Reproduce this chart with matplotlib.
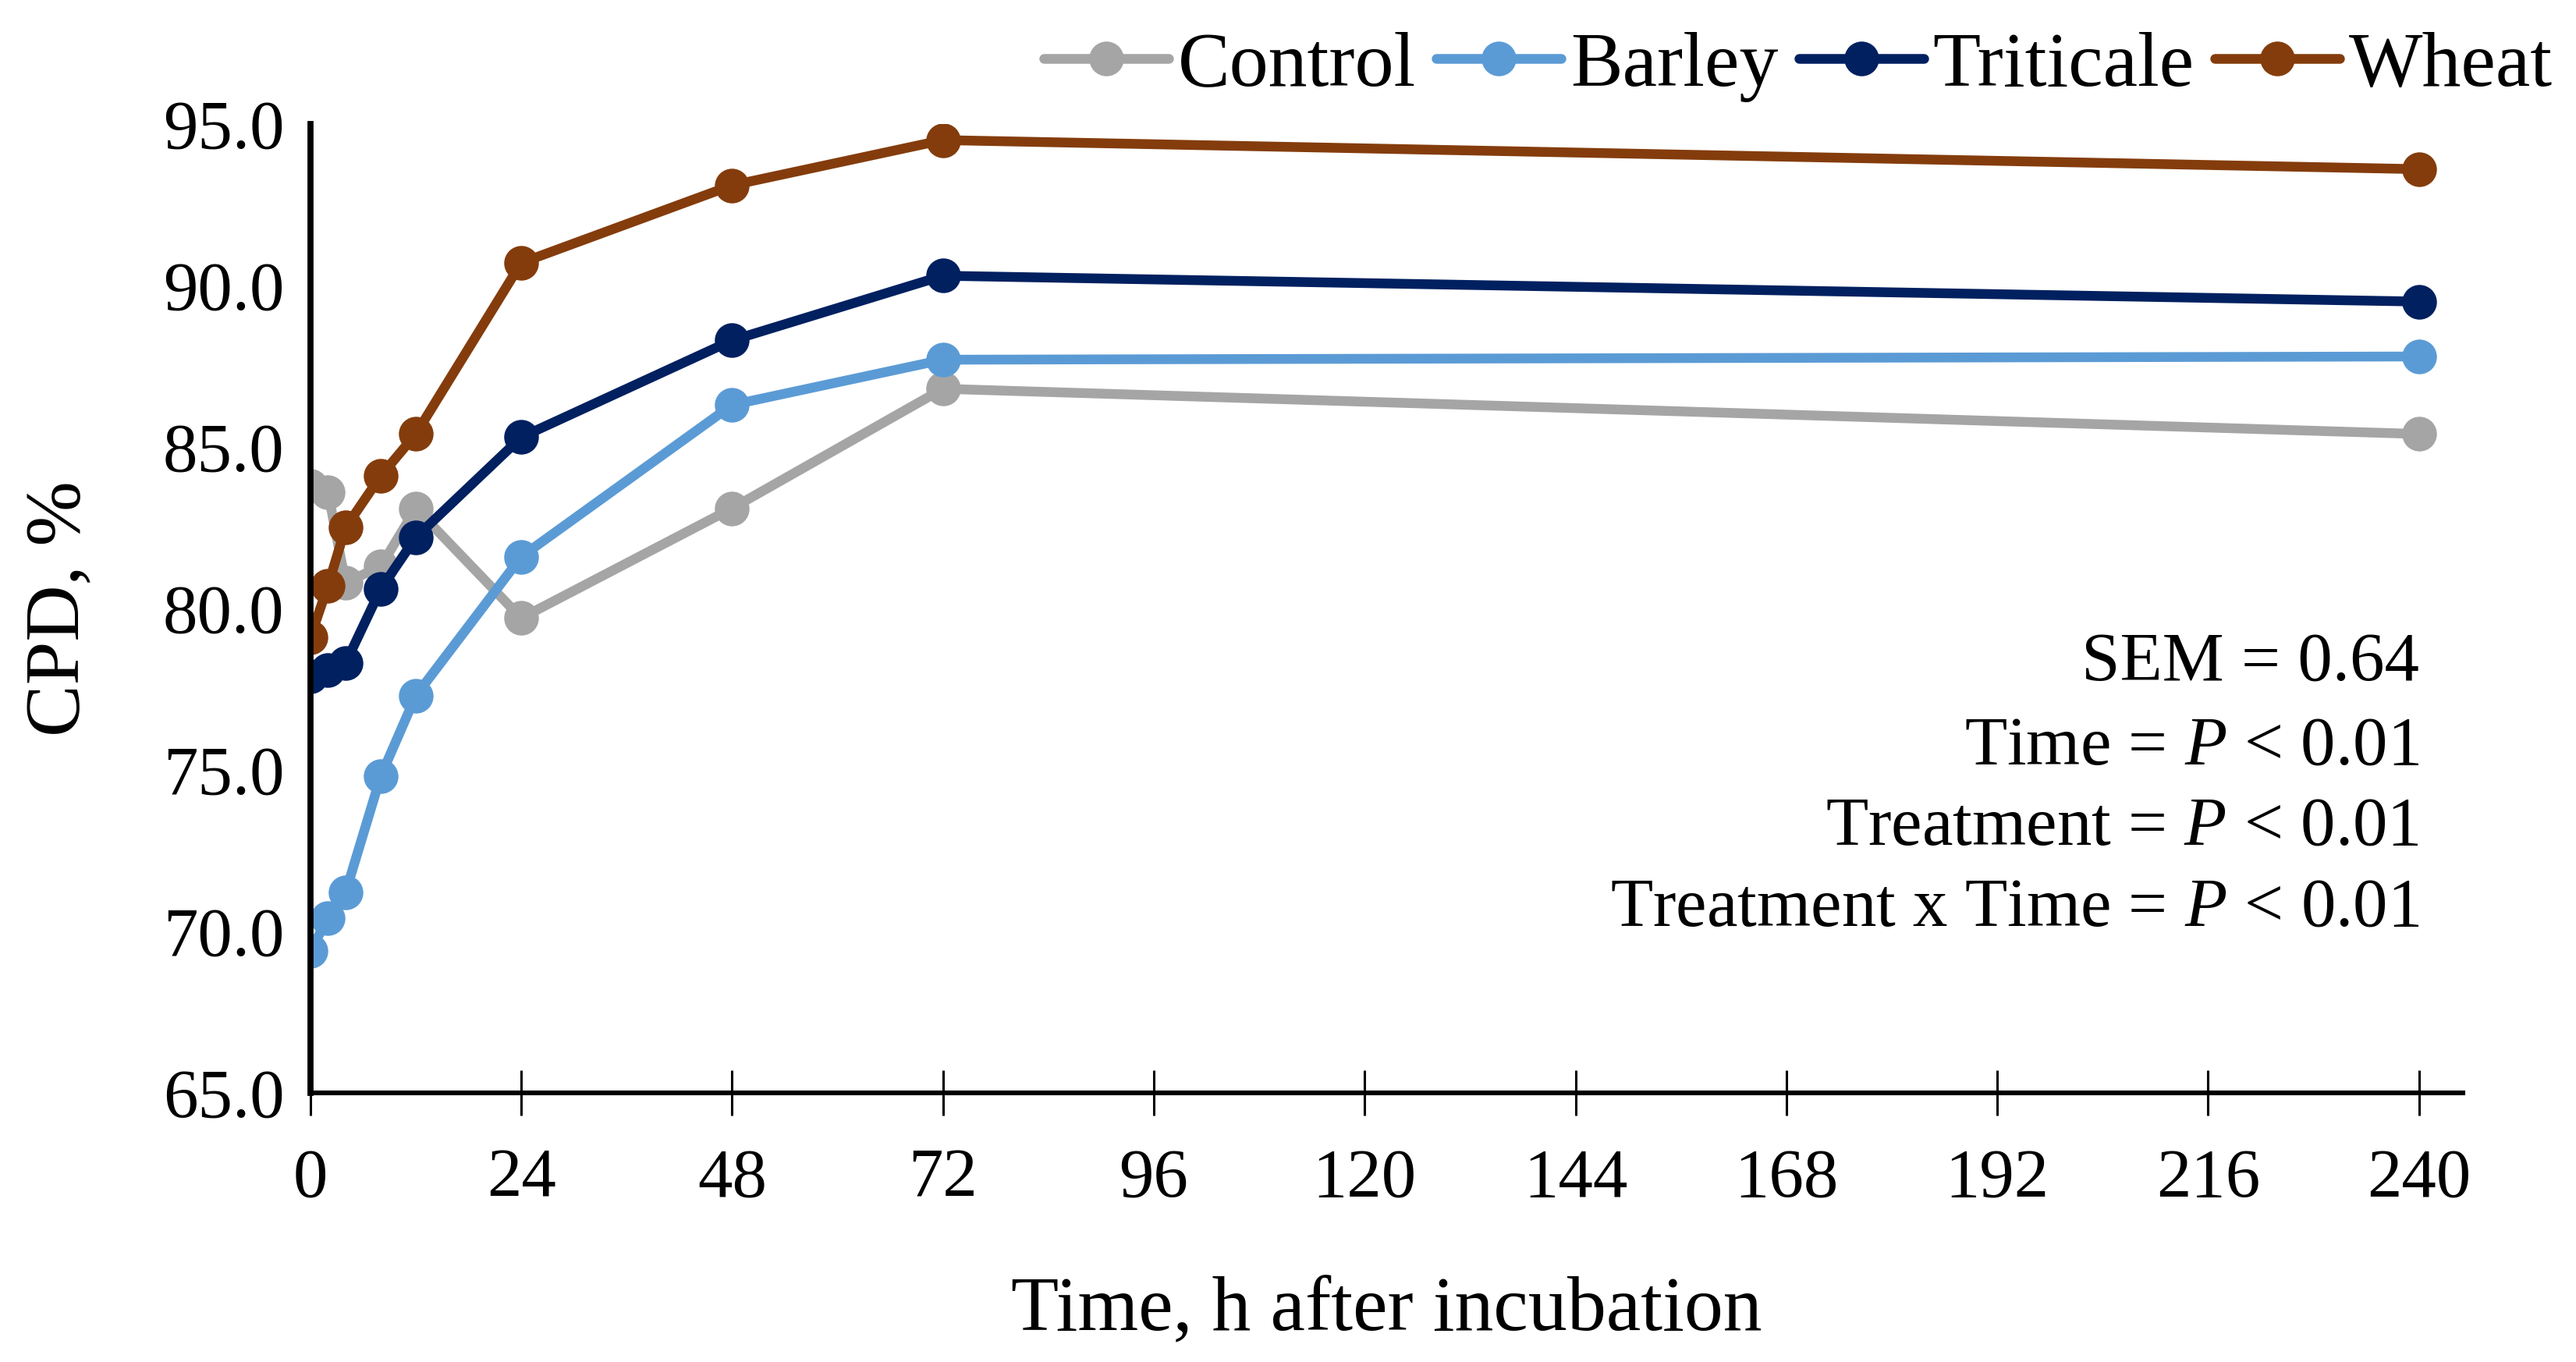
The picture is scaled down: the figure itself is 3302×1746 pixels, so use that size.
import matplotlib
matplotlib.use("Agg")
import matplotlib.pyplot as plt
from matplotlib.ticker import FormatStrFormatter

plt.rcParams['font.family'] = ['Liberation Serif', 'DejaVu Serif']
plt.rcParams['mathtext.fontset'] = 'custom'
plt.rcParams['mathtext.it'] = 'Liberation Serif:italic'
plt.rcParams['mathtext.rm'] = 'Liberation Serif'

# hours after incubation
hours = [0, 2, 4, 8, 12, 24, 48, 72, 240]

control = [83.8, 83.6, 80.8, 81.3, 83.1, 79.7, 83.1, 86.8, 85.4]
barley = [69.4, 70.4, 71.2, 74.8, 77.3, 81.6, 86.3, 87.7, 87.8]
triticale = [77.9, 78.1, 78.3, 80.6, 82.2, 85.3, 88.3, 90.3, 89.5]
wheat = [79.1, 80.7, 82.5, 84.1, 85.4, 90.7, 93.1, 94.5, 93.6]

names = ['Control', 'Barley', 'Triticale', 'Wheat']
colours = ['#A5A5A5', '#5B9BD5', '#002060', '#843C0C']
stats_lines = ['SEM = 0.64', 'Time = $\\it{P}$ < 0.01',
               'Treatment = $\\it{P}$ < 0.01',
               'Treatment x Time = $\\it{P}$ < 0.01']
stats_y = [78.3, 75.7, 73.2, 70.7]

fig = plt.figure(figsize=(16.51, 8.73), dpi=200)
ax = fig.add_axes([0.1205, 0.1976, 0.8356, 0.7114])

for name, vals, col in zip(names, [control, barley, triticale, wheat], colours):
    ax.plot(hours, vals, color=col, lw=4.5, marker='o', ms=15, label=name,
            solid_capstyle='round', solid_joinstyle='round')

ax.set_xlim(0, 245)
ax.set_ylim(65, 95)
ax.set_xticks(range(0, 241, 24))
ax.set_yticks([65, 70, 75, 80, 85, 90, 95])
ax.yaxis.set_major_formatter(FormatStrFormatter('%.1f'))

for s in ['top', 'right']:
    ax.spines[s].set_visible(False)
ax.spines['left'].set_linewidth(2.8)
ax.spines['bottom'].set_linewidth(2.2)

ax.tick_params(axis='x', direction='inout', length=21, width=1.1, pad=15,
               labelsize=32)
ax.tick_params(axis='y', length=0, pad=12, labelsize=32)

ax.set_xlabel('Time, h after incubation', fontsize=36, labelpad=30)
ax.set_ylabel('CPD, %', fontsize=36, labelpad=31)

for txt, yy in zip(stats_lines, stats_y):
    ax.text(240, yy, txt, ha='right', va='center', fontsize=32)

fig.legend(loc='upper right', bbox_to_anchor=(1.006, 1.006), ncol=4,
           frameon=False, fontsize=36, handlelength=1.6, handletextpad=0.12,
           columnspacing=0.26, borderaxespad=0.1)

fig.savefig('out.png', dpi=200)
